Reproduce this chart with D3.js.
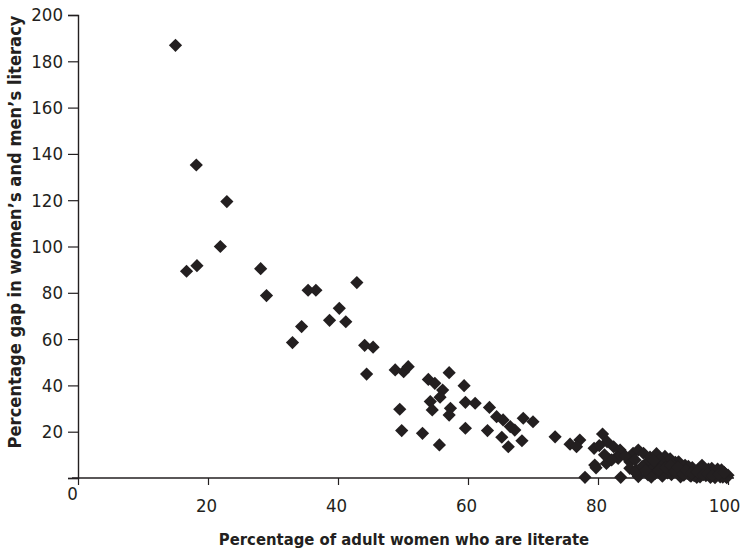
<!DOCTYPE html>
<html>
<head>
<meta charset="utf-8">
<script src="https://cdn.jsdelivr.net/npm/d3@7"></script>
<style>
  body { margin: 0; background: #fff; }
  svg { display: block; }
  text { font-family: "Liberation Sans Narrow", "DejaVu Sans Condensed", "Open Sans", sans-serif; fill: #231f20; }
</style>
</head>
<body>
<svg id="chart" width="744" height="552"></svg>
<script>
// Percentage of adult women who are literate (x) vs percentage gap (y)
const xValues = [
  15.0, 18.2, 22.9, 21.9, 18.3, 16.7,
  28.1, 29.0, 33.0, 34.4, 35.4, 36.6, 38.7, 40.2, 41.2, 42.9, 44.1, 45.4, 44.4, 48.8,
  49.5, 49.8, 50.1, 50.8, 53.0, 53.9, 54.9, 56.1, 55.7, 54.2, 54.5, 55.6, 57.1, 57.3, 57.1,
  59.4, 59.6, 61.1, 59.6, 63.0, 63.3, 64.4, 65.4, 66.5, 65.2, 66.2, 67.2, 68.5, 70.0, 68.3,
  73.4, 75.7, 77.2, 76.7, 78.0, 79.7, 79.4, 80.7, 81.4, 82.4, 83.4, 81.8, 82.9, 81.3, 83.5,
  85.4, 84.9, 85.9, 86.2, 86.2, 87.0, 85.7, 84.9, 85.9, 87.7, 79.5, 83.1, 82.1, 85.7,
  87.5, 88.0, 88.3, 88.8, 89.0, 89.3, 89.6, 89.9, 90.3, 90.5, 90.8, 91.1, 91.3, 91.6, 91.9,
  92.2, 92.4, 92.7, 93.0, 93.4, 93.7, 94.0, 94.3, 94.7, 95.0, 95.4, 95.7, 96.0, 96.3, 96.6,
  97.0, 97.3, 97.5, 97.8, 98.2, 98.5, 98.8, 99.0, 99.3, 99.6, 100.0, 99.8, 89.5, 90.0, 92.0,
  94.5, 95.2, 96.8, 98.0,
  88.6, 89.2, 90.1, 90.7, 91.4, 92.6, 93.2, 93.9, 94.8, 95.6, 96.4, 97.2, 98.4, 99.2,
  88.2, 89.8, 91.0, 92.9, 94.1, 95.9, 97.7, 99.5, 86.8, 87.3, 84.2, 80.2, 81.0,
  89.4, 90.4, 91.2, 91.8, 92.3, 93.1, 93.6, 94.4, 95.3, 96.2, 96.9, 97.6, 98.6, 99.4
];
const yValues = [
  186.9, 135.2, 119.4, 100.0, 91.7, 89.3,
  90.4, 78.8, 58.5, 65.4, 81.1, 81.1, 68.1, 73.3, 67.5, 84.4, 57.3, 56.5, 44.9, 46.7,
  29.7, 20.5, 45.9, 48.1, 19.3, 42.6, 40.9, 38.0, 34.9, 33.0, 29.4, 14.3, 45.5, 30.1, 27.2,
  39.9, 32.7, 32.3, 21.5, 20.5, 30.5, 26.5, 25.1, 22.2, 17.6, 13.5, 20.7, 25.8, 24.3, 16.1,
  17.8, 14.6, 16.4, 13.5, 0.3, 4.4, 12.8, 19.0, 15.7, 13.5, 12.1, 7.8, 9.2, 6.3, 0.3,
  10.7, 7.0, 3.5, 0.6, 12.1, 10.7, 7.8, 4.2, 2.0, 1.3, 5.6, 8.5, 7.8, 2.7,
  6.5, 9.0, 4.0, 2.0, 10.5, 7.0, 5.0, 0.8, 9.3, 3.0, 6.5, 8.3, 1.5, 4.5, 6.8,
  2.5, 7.0, 0.5, 4.0, 5.5, 2.0, 3.8, 0.8, 2.8, 1.5, 3.5, 0.5, 5.5, 2.5, 1.0,
  3.8, 0.3, 4.2, 2.0, 1.0, 2.8, 0.5, 3.5, 1.5, 0.8, 1.2, 0.2, 8.0, 1.8, 5.0,
  4.5, 0.3, 3.0, 0.2,
  7.5, 3.0, 5.8, 2.2, 6.0, 3.2, 1.2, 5.0, 1.0, 2.2, 4.0, 1.8, 3.8, 0.4,
  0.4, 4.8, 3.2, 2.4, 1.2, 3.8, 2.6, 2.0, 5.0, 3.2, 9.5, 14.0, 10.0,
  3.6, 4.4, 5.4, 2.8, 4.6, 1.6, 3.4, 2.2, 2.6, 1.4, 1.8, 1.0, 1.6, 2.4
];
const xTicks = [0, 20, 40, 60, 80, 100];
const yTicks = [20, 40, 60, 80, 100, 120, 140, 160, 180, 200];
const xTitle = "Percentage of adult women who are literate";
const yTitle = "Percentage gap in women\u2019s and men\u2019s literacy";

const points = xValues.map((x, i) => ({ x, y: yValues[i] }));

const ink = "#231f20";
const svg = d3.select("#chart");
const x = d3.scaleLinear().domain([0, 100]).range([78, 728]);
const y = d3.scaleLinear().domain([0, 200]).range([478, 15]);

// Y axis
const yAxis = svg.append("g")
  .attr("transform", `translate(${x(0)},0)`)
  .call(d3.axisLeft(y).tickValues([0].concat(yTicks)).tickSize(10).tickPadding(5)
    .tickFormat(d => d === 0 ? "" : d));
yAxis.select(".domain").attr("stroke", ink).attr("stroke-width", 1.4);
yAxis.selectAll(".tick line").attr("stroke", ink).attr("stroke-width", 1.2);
yAxis.selectAll(".tick text").attr("font-size", 18.5).attr("fill", ink)
  .attr("font-family", null);

// X axis
const xAxis = svg.append("g")
  .attr("transform", `translate(0,${y(0)})`)
  .call(d3.axisBottom(x).tickValues(xTicks).tickSize(7).tickPadding(14).tickSizeOuter(0));
xAxis.select(".domain").attr("stroke", ink).attr("stroke-width", 1.4)
  .attr("d", `M${x(0) - 6},0H${x(100) + 6}`);
xAxis.selectAll(".tick line").attr("stroke", ink).attr("stroke-width", 1.2);
xAxis.selectAll(".tick text").attr("font-size", 18.5).attr("fill", ink)
  .attr("font-family", null)
  .attr("dx", d => d === 0 ? -6 : (d === 100 ? -4 : -2))
  .attr("dy", d => d === 0 ? "0.05em" : "0.71em");

// Diamonds
const r = 6.6;
const diamond = () => {
  const p = d3.path();
  p.moveTo(0, -r); p.lineTo(r, 0); p.lineTo(0, r); p.lineTo(-r, 0); p.closePath();
  return p.toString();
};
svg.append("g").selectAll("path")
  .data(points)
  .join("path")
  .attr("d", diamond())
  .attr("transform", d => `translate(${x(d.x)},${y(d.y)})`)
  .attr("fill", ink);

// Titles
svg.append("text")
  .attr("x", 404).attr("y", 545)
  .attr("text-anchor", "middle")
  .attr("font-size", 16.5).attr("font-weight", "bold")
  .text(xTitle);
svg.append("text")
  .attr("transform", "translate(21,232) rotate(-90)")
  .attr("text-anchor", "middle")
  .attr("font-size", 18.2).attr("font-weight", "bold")
  .text(yTitle);
</script>
</body>
</html>
